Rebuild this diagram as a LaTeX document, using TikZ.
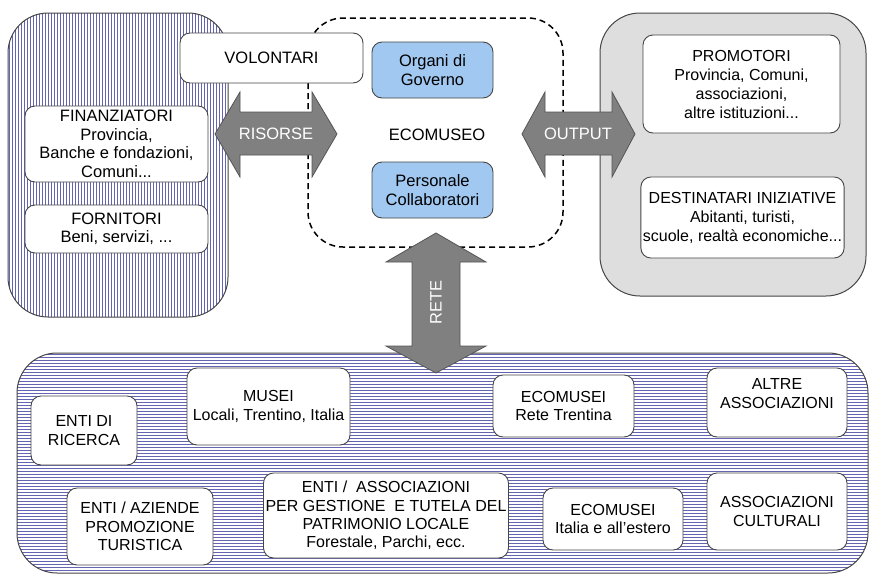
\documentclass[tikz,border=0pt]{standalone}
\usepackage{fontspec}
\setmainfont{Liberation Sans}
\definecolor{stripe}{RGB}{100,100,178}
\definecolor{boxline}{RGB}{70,70,70}
\definecolor{lblue}{RGB}{160,200,240}
\definecolor{arrowfill}{RGB}{128,128,128}
\definecolor{arrowline}{RGB}{85,85,85}
\definecolor{dotgray}{RGB}{222,222,222}
\begin{document}
\begin{tikzpicture}[x=1pt,y=-1pt,
  panel/.style={draw=boxline, line width=1pt, rounded corners=40pt},
  box/.style={draw=boxline, fill=white, rounded corners=10pt, line width=0.9pt, align=center, inner sep=2pt, font=\fontsize{16.5}{18.5}\selectfont},
  rbox/.style={box, font=\fontsize{16}{19}\selectfont},
  bbox/.style={box, font=\fontsize{16}{18.3}\selectfont},
  bluebox/.style={box, fill=lblue},
  blockarrow/.style={fill=arrowfill, draw=arrowline, line width=0.8pt},
  arrowlabel/.style={text=white, font=\fontsize{16.5}{18}\selectfont, inner sep=0pt},
  plainlabel/.style={font=\fontsize{16.5}{18}\selectfont, inner sep=0pt}]
\useasboundingbox (0,0) rectangle (870,576);
\fill[white] (0,0) rectangle (870,576);
% left panel
\begin{scope}
  \clip[rounded corners=40pt] (8,13) rectangle (228,317);
  \fill[white] (8,13) rectangle (228,317);
  \foreach \x in {9.5,12.5,...,228} \draw[stripe, line width=1.4pt] (\x,13) -- (\x,317);
\end{scope}
\draw[panel] (8,13) rectangle (228,317);
% right panel
\draw[panel, fill=dotgray] (600,13) rectangle (866,296);
% bottom panel
\begin{scope}
  \clip[rounded corners=40pt] (17,353) rectangle (868,573);
  \fill[white] (17,353) rectangle (868,573);
  \foreach \y in {354.5,357.5,...,573} \draw[stripe, line width=1.4pt] (17,\y) -- (868,\y);
\end{scope}
\draw[panel] (17,353) rectangle (868,573);
% ecomuseo dashed frame
\draw[dash pattern=on 6pt off 4pt, line width=1.5pt, rounded corners=35pt] (308,18) rectangle (563,247);
% boxes
\node[box, minimum width=183pt, minimum height=50pt] (volontari) at (271.5,58) {VOLONTARI};
\node[box, minimum width=183pt, minimum height=76pt] (finanziatori) at (116.5,144) {FINANZIATORI\\Provincia,\\Banche e fondazioni,\\Comuni...};
\node[box, minimum width=183pt, minimum height=48pt] (fornitori) at (116.5,229) {FORNITORI\\Beni, servizi, ...};
\node[bluebox, minimum width=121pt, minimum height=56pt] (organi) at (432.5,70) {Organi di\\Governo};
\node[bluebox, minimum width=121pt, minimum height=56pt] (personale) at (432.5,190) {Personale\\Collaboratori};
\node[plainlabel] (ecomuseo) at (437,135) {ECOMUSEO};
\node[rbox, minimum width=197pt, minimum height=98pt] (promotori) at (741.5,84) {PROMOTORI\\Provincia, Comuni,\\associazioni,\\altre istituzioni...};
\node[rbox, minimum width=199pt, minimum height=81pt] (destinatari) at (742.5,217.5) {DESTINATARI INIZIATIVE\\Abitanti, turisti,\\scuole, realtà economiche...};
% bottom boxes
\node[bbox, minimum width=106pt, minimum height=69pt] (ricerca) at (84,430.5) {ENTI DI\\RICERCA};
\node[bbox, minimum width=163pt, minimum height=77pt] (musei) at (268.5,406.5) {MUSEI\\Locali, Trentino, Italia};
\node[bbox, minimum width=146pt, minimum height=77pt] (aziende) at (140,526.5) {ENTI / AZIENDE\\PROMOZIONE\\TURISTICA};
\node[bbox, minimum width=238pt, minimum height=85pt] (tutela) at (386,515.5) {ENTI /\ \ ASSOCIAZIONI\\PER GESTIONE\ \ E TUTELA DEL\\PATRIMONIO LOCALE\\Forestale, Parchi, ecc.};
\node[bbox, minimum width=141pt, minimum height=62pt] (ecotrentina) at (563.5,406) {ECOMUSEI\\Rete Trentina};
\node[bbox, minimum width=140pt, minimum height=69pt] (altre) at (777,402.5) {ALTRE\\ASSOCIAZIONI\\\mbox{}};
\node[bbox, minimum width=140pt, minimum height=62pt] (ecoitalia) at (613,519) {ECOMUSEI\\Italia e all’estero};
\node[bbox, minimum width=140pt, minimum height=77pt] (culturali) at (777,511.5) {ASSOCIAZIONI\\CULTURALI};
% block arrows
\draw[blockarrow] (215,134) -- (240,92) -- (240,112) -- (312,112) -- (312,92) -- (337,134) -- (312,177) -- (312,155) -- (240,155) -- (240,177) -- cycle;
\draw[blockarrow] (522,134) -- (545,92) -- (545,112) -- (612,112) -- (612,92) -- (635,134) -- (612,177) -- (612,155) -- (545,155) -- (545,177) -- cycle;
\draw[blockarrow] (436,233) -- (486,262) -- (460,262) -- (460,346) -- (486,346) -- (436,373) -- (386,346) -- (412,346) -- (412,262) -- (386,262) -- cycle;
\node[arrowlabel] (risorse) at (276,134) {RISORSE};
\node[arrowlabel] (output) at (578,134) {OUTPUT};
\node[arrowlabel, rotate=90] (rete) at (436,302) {RETE};
\end{tikzpicture}
\end{document}
